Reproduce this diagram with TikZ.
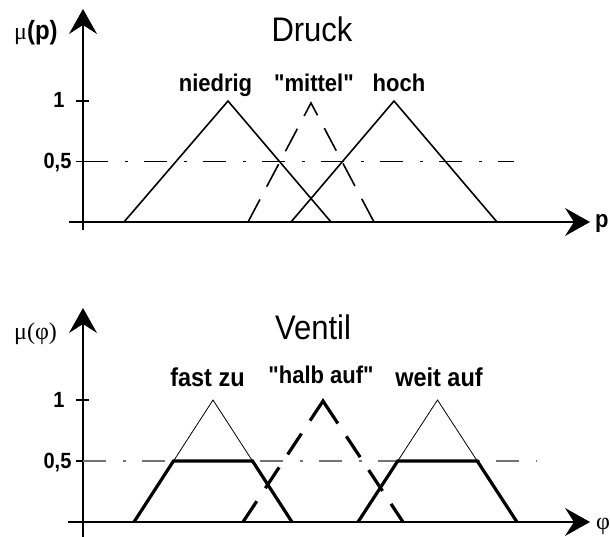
\documentclass[tikz,border=0pt]{standalone}
\usepackage{fontspec}
\usepackage{graphicx}
\setmainfont{Liberation Sans}
\newfontfamily\lsans{Liberation Sans}
\newfontfamily\symf{Liberation Serif}
\newcommand{\tallish}[1]{\scalebox{1}[1.1]{#1}}
\usetikzlibrary{arrows.meta}
\begin{document}
\begin{tikzpicture}[x=1pt,y=-1pt,
  axis/.style={line width=1.3pt,-{Stealth[length=25pt,width=28pt,inset=9pt]}},
  tickline/.style={line width=1.3pt},
  tri/.style={line width=1.6pt,line join=miter},
  thintri/.style={line width=0.8pt,line join=miter},
  thickline/.style={line width=3.2pt,line join=miter},
  halfline/.style={line width=1.1pt,dash pattern=on 23pt off 16.5pt on 3pt off 16.5pt},
  lbl/.style={font=\lsans\fontsize{22}{26}\selectfont\bfseries,anchor=base,inner sep=0pt},
  wlbl/.style={lbl,font=\lsans\fontsize{23.5}{27}\selectfont\bfseries},
  ttl/.style={font=\lsans\fontsize{31}{36}\selectfont,anchor=base,inner sep=0pt},
  num/.style={font=\lsans\fontsize{20}{24}\selectfont\bfseries,anchor=base,inner sep=0pt},
  axl/.style={font=\fontsize{24}{28}\selectfont,anchor=base west,inner sep=0pt}]
\useasboundingbox (0,0) rectangle (610,537);

% ---------- top diagram: Druck ----------
\coordinate (tyb) at (83,230);
\coordinate (tyt) at (83,9);
\coordinate (txl) at (69,222);
\coordinate (txr) at (590,222);
\draw[axis] (tyb) -- (tyt);
\draw[axis] (txl) -- (txr);
\coordinate (tt1a) at (76,101);  \coordinate (tt1b) at (89,101);
\coordinate (tt5a) at (76,161.5); \coordinate (tt5b) at (89,161.5);
\draw[tickline] (tt1a) -- (tt1b);
\draw[tickline] (tt5a) -- (tt5b);
\coordinate (th1) at (85,161.5); \coordinate (th2) at (514,161.5);
\draw[halfline] (th1) -- (th2);

\coordinate (n1) at (124,222); \coordinate (n2) at (228,101); \coordinate (n3) at (331,222);
\draw[tri] (n1) -- (n2) -- (n3);
\coordinate (h1) at (291,222); \coordinate (h2) at (394,101); \coordinate (h3) at (497,222);
\draw[tri] (h1) -- (h2) -- (h3);
\coordinate (m1) at (248,222); \coordinate (m2) at (311,103); \coordinate (m3) at (374,222);
\draw[tri,dash pattern=on 25.5pt off 14.5pt on 25.5pt off 14.5pt on 25.5pt off 14.5pt on 28.6pt off 14.5pt on 25.5pt off 14.5pt on 25.5pt off 14.5pt on 25.5pt off 20pt] (m1) -- (m2) -- (m3);

\node[ttl] (druck) at (312,42) {\tallish{Druck}};
\node[lbl] (niedrig) at (215.5,92) {\tallish{niedrig}};
\node[lbl] (mittel) at (314,92) {\tallish{"mittel"}};
\node[lbl] (hoch) at (399,92) {\tallish{hoch}};
\node[axl] (mup) at (14,40) {{\symf μ}\lsans\bfseries\tallish{(p)}};
\node[num] (one1) at (59,108) {\tallish{1}};
\node[num] (half1) at (57.5,168.5) {\tallish{0,5}};
\node[lbl,anchor=base west] (plbl) at (595,228) {\tallish{p}};

% ---------- bottom diagram: Ventil ----------
\coordinate (byb) at (83,540);
\coordinate (byt) at (83,308);
\coordinate (bxl) at (68,522);
\coordinate (bxr) at (590,522);
\draw[axis] (byb) -- (byt);
\draw[axis] (bxl) -- (bxr);
\coordinate (bt1a) at (76,400);  \coordinate (bt1b) at (89,400);
\coordinate (bt5a) at (76,461); \coordinate (bt5b) at (89,461);
\draw[tickline] (bt1a) -- (bt1b);
\draw[tickline] (bt5a) -- (bt5b);
\coordinate (bh1) at (83,461); \coordinate (bh2) at (537,461);
\draw[halfline,draw=black!55,line width=1.2pt] (bh1) -- (bh2);

\coordinate (f1) at (134,522); \coordinate (f2) at (213,400); \coordinate (f3) at (292,522);
\coordinate (f4) at (173.5,461); \coordinate (f5) at (252.5,461);
\draw[thintri] (f1) -- (f2) -- (f3);
\draw[thickline] (f1) -- (f4) -- (f5) -- (f3);
\coordinate (w1) at (358,522); \coordinate (w2) at (437.5,400); \coordinate (w3) at (517,522);
\coordinate (w4) at (397.75,461); \coordinate (w5) at (477.25,461);
\draw[thintri] (w1) -- (w2) -- (w3);
\draw[thickline] (w1) -- (w4) -- (w5) -- (w3);
\coordinate (a1) at (243,522); \coordinate (a2) at (323,401); \coordinate (a3) at (403,522);
\draw[thickline,dash pattern=on 25pt off 15.5pt on 25pt off 15.5pt on 25pt off 15.5pt on 50.4pt off 15.5pt on 25pt off 15.5pt on 25pt off 15.5pt on 25pt off 30pt] (a1) -- (a2) -- (a3);

\node[ttl] (ventil) at (313,339) {\tallish{Ventil}};
\node[wlbl] (fastzu) at (207.5,386) {\tallish{fast zu}};
\node[lbl] (halbauf) at (321,383) {\tallish{"halb auf"}};
\node[wlbl] (weitauf) at (439,386) {\tallish{weit auf}};
\node[axl] (muphi) at (14,339) {\symf μ(φ)};
\node[num] (one2) at (59,407) {\tallish{1}};
\node[num] (half2) at (57.5,468) {\tallish{0,5}};
\node[axl] (philbl) at (596,529) {\symf φ};
\end{tikzpicture}
\end{document}
